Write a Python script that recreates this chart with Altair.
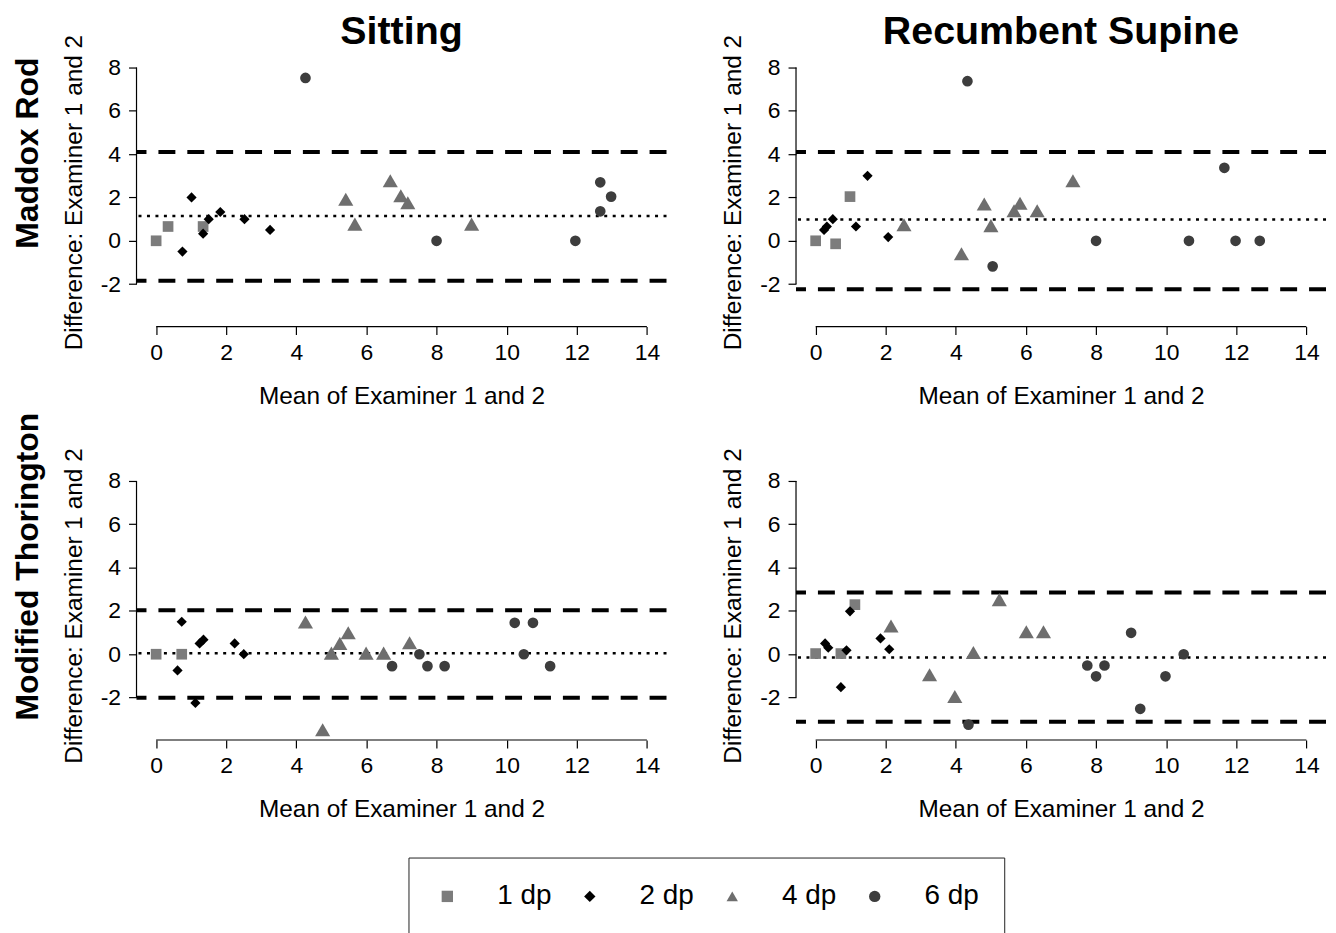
import altair as alt
import pandas as pd

FONT = "Liberation Sans"

GROUPS = ["1 dp", "2 dp", "4 dp", "6 dp"]
SHAPES = ["square", "diamond", "triangle-up", "circle"]
COLORS = ["#7c7c7c", "#000000", "#6e6e6e", "#3d3d3d"]
SIZES = [115, 105, 230, 115]

COL_TITLES = ["Sitting", "Recumbent Supine"]
ROW_TITLES = ["Maddox Rod", "Modified Thorington"]
X_TITLE = "Mean of Examiner 1 and 2"
Y_TITLE = "Difference: Examiner 1 and 2"
X_TICKS = [0, 2, 4, 6, 8, 10, 12, 14]
Y_TICKS = [-2, 0, 2, 4, 6, 8]
X_DOMAIN = [-0.56, 14.56]
Y_DOMAIN = [-3.96, 8.46]

# ---- Maddox Rod, Sitting ----
mr_sit_1dp_x = [0.0, 0.34, 1.34]
mr_sit_1dp_y = [0.0, 0.66, 0.66]
mr_sit_2dp_x = [0.75, 1.01, 1.34, 1.5, 1.83, 2.52, 3.25]
mr_sit_2dp_y = [-0.5, 2.0, 0.33, 1.0, 1.33, 1.0, 0.5]
mr_sit_4dp_x = [5.41, 5.67, 6.68, 6.98, 7.18, 9.0]
mr_sit_4dp_y = [1.92, 0.77, 2.77, 2.08, 1.76, 0.77]
mr_sit_6dp_x = [4.26, 8.0, 11.96, 12.67, 12.98, 12.67]
mr_sit_6dp_y = [7.52, 0.0, 0.0, 2.7, 2.04, 1.36]
mr_sit_limits = [4.1, 1.15, -1.84]

# ---- Maddox Rod, Recumbent Supine ----
mr_rec_1dp_x = [0.0, 0.57, 0.98]
mr_rec_1dp_y = [0.0, -0.14, 2.04]
mr_rec_2dp_x = [0.24, 0.32, 0.49, 1.15, 1.48, 2.07]
mr_rec_2dp_y = [0.5, 0.66, 1.0, 0.66, 3.0, 0.17]
mr_rec_4dp_x = [2.52, 4.16, 4.81, 5.0, 5.66, 5.83, 6.32, 7.34]
mr_rec_4dp_y = [0.74, -0.6, 1.7, 0.7, 1.39, 1.73, 1.39, 2.77]
mr_rec_6dp_x = [4.33, 5.05, 8.0, 10.65, 11.66, 11.98, 12.67]
mr_rec_6dp_y = [7.37, -1.18, 0.0, 0.0, 3.37, 0.0, 0.0]
mr_rec_limits = [4.1, 0.98, -2.24]

# ---- Modified Thorington, Sitting ----
mt_sit_1dp_x = [0.0, 0.73]
mt_sit_1dp_y = [0.0, 0.0]
mt_sit_2dp_x = [0.73, 0.61, 1.12, 1.24, 1.35, 2.24, 2.5]
mt_sit_2dp_y = [1.5, -0.75, -2.25, 0.5, 0.67, 0.5, 0.0]
mt_sit_4dp_x = [4.26, 4.75, 5.0, 5.24, 5.48, 5.99, 6.49, 7.23]
mt_sit_4dp_y = [1.49, -3.49, 0.05, 0.5, 0.99, 0.05, 0.05, 0.53]
mt_sit_6dp_x = [6.73, 7.51, 7.74, 8.23, 10.23, 10.75, 10.49, 11.24]
mt_sit_6dp_y = [-0.55, 0.0, -0.55, -0.55, 1.45, 1.45, 0.0, -0.55]
mt_sit_limits = [2.03, 0.05, -2.01]

# ---- Modified Thorington, Recumbent Supine ----
mt_rec_1dp_x = [0.0, 0.72, 1.12]
mt_rec_1dp_y = [0.03, 0.03, 2.29]
mt_rec_2dp_x = [0.27, 0.36, 0.88, 0.72, 0.98, 1.85, 2.1]
mt_rec_2dp_y = [0.5, 0.3, 0.18, -1.52, 1.98, 0.73, 0.23]
mt_rec_4dp_x = [2.15, 3.25, 3.97, 4.5, 5.24, 6.01, 6.5]
mt_rec_4dp_y = [1.3, -0.95, -1.95, 0.08, 2.52, 1.04, 1.04]
mt_rec_6dp_x = [4.36, 7.75, 8.24, 8.0, 9.0, 9.26, 9.98, 10.5]
mt_rec_6dp_y = [-3.25, -0.52, -0.52, -1.02, 0.99, -2.52, -1.02, 0.0]
mt_rec_limits = [2.85, -0.15, -3.12]

W, H = 532, 270

xs = alt.Scale(domain=X_DOMAIN, nice=False, zero=False)
ys = alt.Scale(domain=Y_DOMAIN, nice=False, zero=False)
x_axis = alt.Axis(values=X_TICKS, title=X_TITLE, domain=False, grid=False,
                  tickSize=8, tickWidth=1.2, labelPadding=7, titlePadding=20,
                  labelFlush=False, labelExpr="'' + datum.value")
y_axis = alt.Axis(values=Y_TICKS, title=Y_TITLE, domain=False, grid=False,
                  tickSize=8, tickWidth=1.2, labelPadding=8, titlePadding=14,
                  labelExpr="'' + datum.value")

legend = alt.Legend(orient="none", legendX=273, legendY=803, direction="horizontal",
                    title=None, labelFontSize=28, labelFont=FONT, labelColor="black",
                    symbolSize=130, symbolStrokeWidth=0, labelOffset=36,
                    columnPadding=24, padding=25, strokeColor="#222")


def panel(series, limits, col_title=None, row_title=None):
    rows = []
    for g, (xv, yv) in zip(GROUPS, series):
        for a, b in zip(xv, yv):
            rows.append({"x": a, "y": b, "grp": g})
    df = pd.DataFrame(rows)

    dashed = alt.Chart(pd.DataFrame({"y": [limits[0], limits[2]]})).mark_rule(
        color="black", strokeWidth=4, strokeDash=[17, 12]
    ).encode(y=alt.Y("y:Q", scale=ys, axis=y_axis))
    dotted = alt.Chart(pd.DataFrame({"y": [limits[1]]})).mark_rule(
        color="black", strokeWidth=2.5, strokeDash=[3, 5.5]
    ).encode(y=alt.Y("y:Q", scale=ys, axis=y_axis))
    yline = alt.Chart(pd.DataFrame({"a": [Y_TICKS[0]], "b": [Y_TICKS[-1]]})).mark_rule(
        color="black", strokeWidth=1.2
    ).encode(x=alt.value(0), y=alt.Y("a:Q", scale=ys, axis=y_axis), y2="b:Q")
    xline = alt.Chart(pd.DataFrame({"a": [X_TICKS[0]], "b": [X_TICKS[-1]]})).mark_rule(
        color="black", strokeWidth=1.2
    ).encode(x=alt.X("a:Q", scale=xs, axis=x_axis), x2="b:Q", y=alt.value(H))
    layers = [dashed, dotted, yline, xline]
    for g, sz in zip(GROUPS, SIZES):
        layers.append(
            alt.Chart(df).transform_filter(alt.datum.grp == g)
            .mark_point(filled=True, opacity=1, strokeWidth=0, size=sz)
            .encode(
                x=alt.X("x:Q", scale=xs, axis=x_axis),
                y=alt.Y("y:Q", scale=ys, axis=y_axis),
                shape=alt.Shape("grp:N", scale=alt.Scale(domain=GROUPS, range=SHAPES), legend=legend),
                color=alt.Color("grp:N", scale=alt.Scale(domain=GROUPS, range=COLORS), legend=legend),
            )
        )
    if row_title:
        layers.append(
            alt.Chart(pd.DataFrame({"t": [row_title]})).mark_text(
                angle=270, fontSize=32, fontWeight="bold", font=FONT, color="black",
                align="center", baseline="middle"
            ).encode(text="t:N", x=alt.value(-109), y=alt.value(96))
        )
    if col_title:
        layers.append(
            alt.Chart(pd.DataFrame({"t": [col_title]})).mark_text(
                fontSize=39.5, fontWeight="bold", font=FONT, color="black",
                align="center", baseline="alphabetic"
            ).encode(text="t:N", x=alt.value(W / 2), y=alt.value(-14))
        )
    return alt.layer(*layers).properties(width=W, height=H)


p1 = panel([(mr_sit_1dp_x, mr_sit_1dp_y), (mr_sit_2dp_x, mr_sit_2dp_y),
            (mr_sit_4dp_x, mr_sit_4dp_y), (mr_sit_6dp_x, mr_sit_6dp_y)],
           mr_sit_limits, COL_TITLES[0], ROW_TITLES[0])
p2 = panel([(mr_rec_1dp_x, mr_rec_1dp_y), (mr_rec_2dp_x, mr_rec_2dp_y),
            (mr_rec_4dp_x, mr_rec_4dp_y), (mr_rec_6dp_x, mr_rec_6dp_y)],
           mr_rec_limits, COL_TITLES[1], None)
p3 = panel([(mt_sit_1dp_x, mt_sit_1dp_y), (mt_sit_2dp_x, mt_sit_2dp_y),
            (mt_sit_4dp_x, mt_sit_4dp_y), (mt_sit_6dp_x, mt_sit_6dp_y)],
           mt_sit_limits, None, ROW_TITLES[1])
p4 = panel([(mt_rec_1dp_x, mt_rec_1dp_y), (mt_rec_2dp_x, mt_rec_2dp_y),
            (mt_rec_4dp_x, mt_rec_4dp_y), (mt_rec_6dp_x, mt_rec_6dp_y)],
           mt_rec_limits, None, None)

chart = alt.concat(p1, p2, p3, p4, columns=2,
                   spacing={"row": 145, "column": 130}, bounds="flush").properties(
    padding={"left": 3, "top": 2, "right": 0, "bottom": 0}
).configure_view(stroke=None).configure_axis(
    labelFont=FONT, titleFont=FONT, labelFontSize=23, titleFontSize=24.5,
    titleFontWeight="normal", labelColor="black", titleColor="black",
    tickColor="black"
)

chart.save("out.html", embed_options={"renderer": "svg", "actions": False})
